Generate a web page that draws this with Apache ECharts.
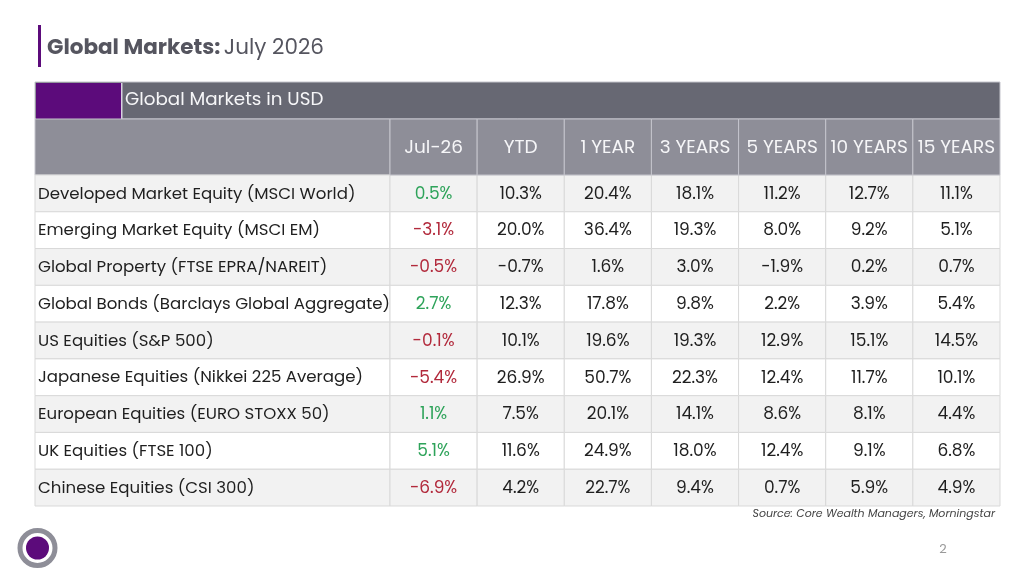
<!DOCTYPE html>
<html>
<head>
<meta charset="utf-8">
<script src="https://cdn.jsdelivr.net/npm/echarts@6/dist/echarts.min.js"></script>
<style>
html,body{margin:0;padding:0;background:#fff;}
#main{width:1024px;height:576px;}
</style>
</head>
<body>
<div id="main"></div>
<script>
const rowLabels = [
  'Developed Market Equity (MSCI World)',
  'Emerging Market Equity (MSCI EM)',
  'Global Property (FTSE EPRA/NAREIT)',
  'Global Bonds (Barclays Global Aggregate)',
  'US Equities (S&P 500)',
  'Japanese Equities (Nikkei 225 Average)',
  'European Equities (EURO STOXX 50)',
  'UK Equities (FTSE 100)',
  'Chinese Equities (CSI 300)'
];
const periods = ['Jul-26', 'YTD', '1 YEAR', '3 YEARS', '5 YEARS', '10 YEARS', '15 YEARS'];
const jul26 = [0.5, -3.1, -0.5, 2.7, -0.1, -5.4, 1.1, 5.1, -6.9];
const ytd = [10.3, 20.0, -0.7, 12.3, 10.1, 26.9, 7.5, 11.6, 4.2];
const oneYear = [20.4, 36.4, 1.6, 17.8, 19.6, 50.7, 20.1, 24.9, 22.7];
const threeYears = [18.1, 19.3, 3.0, 9.8, 19.3, 22.3, 14.1, 18.0, 9.4];
const fiveYears = [11.2, 8.0, -1.9, 2.2, 12.9, 12.4, 8.6, 12.4, 0.7];
const tenYears = [12.7, 9.2, 0.2, 3.9, 15.1, 11.7, 8.1, 9.1, 5.9];
const fifteenYears = [11.1, 5.1, 0.7, 5.4, 14.5, 10.1, 4.4, 6.8, 4.9];
const tableTitle = 'Global Markets in USD';
const sourceNote = 'Source: Core Wealth Managers, Morningstar';

const columns = [jul26, ytd, oneYear, threeYears, fiveYears, tenYears, fifteenYears];
const FONT = 'Poppins, "Open Sans", "Noto Sans", sans-serif';

const valueData = [];
columns.forEach((col, c) => col.forEach((v, r) => valueData.push([c, r, v])));
const labelData = rowLabels.map((_, r) => [0, r]);
const headerData = periods.map((_, c) => [c, 0]);

function cellRect(api, c, r) {
  const center = api.coord([c, r]);
  const size = api.size([1, 1]);
  return { center, x: center[0] - size[0] / 2, y: center[1] - size[1] / 2, w: size[0], h: size[1] };
}

function renderValue(params, api) {
  const c = api.value(0), r = api.value(1), v = api.value(2);
  const b = cellRect(api, c, r);
  let color = '#1f1f1f';
  if (c === 0) color = v >= 0 ? '#2ea35a' : '#b22a3c';
  return {
    type: 'group',
    children: [
      { type: 'rect', shape: { x: b.x, y: b.y, width: b.w, height: b.h },
        style: { fill: r % 2 === 0 ? '#f2f2f2' : '#ffffff', stroke: '#d9d9d9', lineWidth: 1 } },
      { type: 'text', x: b.center[0], y: b.center[1] + 1,
        style: { text: v.toFixed(1) + '%', fill: color, fontSize: 17, fontFamily: FONT, align: 'center', verticalAlign: 'middle' } }
    ]
  };
}

function renderLabel(params, api) {
  const c = api.value(0), r = api.value(1);
  const b = cellRect(api, c, r);
  return {
    type: 'group',
    children: [
      { type: 'rect', shape: { x: b.x, y: b.y, width: b.w, height: b.h },
        style: { fill: r % 2 === 0 ? '#f2f2f2' : '#ffffff', stroke: '#d9d9d9', lineWidth: 1 } },
      { type: 'text', x: b.x + 3, y: b.center[1] + 1,
        style: { text: rowLabels[params.dataIndex], fill: '#1f1f1f', fontSize: 16.6, fontFamily: FONT, align: 'left', verticalAlign: 'middle' } }
    ]
  };
}

function renderHeader(params, api) {
  const c = api.value(0), r = api.value(1);
  const b = cellRect(api, c, r);
  return {
    type: 'group',
    children: [
      { type: 'rect', shape: { x: b.x, y: b.y, width: b.w, height: b.h },
        style: { fill: '#8e8e98', stroke: '#c4c4cc', lineWidth: 1 } },
      { type: 'text', x: b.center[0], y: b.center[1] + 1,
        style: { text: periods[params.dataIndex], fill: '#f6f6f8', fontSize: 18.5, fontFamily: FONT, align: 'center', verticalAlign: 'middle' } }
    ]
  };
}

const hiddenAxis = { axisLine: { show: false }, axisTick: { show: false }, axisLabel: { show: false }, splitLine: { show: false } };

const chart = echarts.init(document.getElementById('main'), null, { renderer: 'canvas' });
chart.setOption({
  backgroundColor: '#ffffff',
  animation: false,
  grid: [
    { left: 35, top: 175, width: 355, height: 331 },
    { left: 390, top: 175, width: 610, height: 331 },
    { left: 390, top: 119, width: 610, height: 56 }
  ],
  xAxis: [
    Object.assign({ type: 'category', gridIndex: 0, data: ['Index'] }, hiddenAxis),
    Object.assign({ type: 'category', gridIndex: 1, data: periods }, hiddenAxis),
    Object.assign({ type: 'category', gridIndex: 2, data: periods }, hiddenAxis)
  ],
  yAxis: [
    Object.assign({ type: 'category', gridIndex: 0, data: rowLabels, inverse: true }, hiddenAxis),
    Object.assign({ type: 'category', gridIndex: 1, data: rowLabels, inverse: true }, hiddenAxis),
    Object.assign({ type: 'category', gridIndex: 2, data: ['Header'] }, hiddenAxis)
  ],
  graphic: [
    { type: 'rect', shape: { x: 38, y: 25, width: 3, height: 42 }, style: { fill: '#5c0b7b' } },
    { type: 'text', x: 47, y: 49, style: {
        text: '{b|Global Markets:} {n|July 2026}',
        verticalAlign: 'middle',
        rich: {
          b: { fontSize: 21.5, fontWeight: 'bold', fill: '#55555f', fontFamily: FONT },
          n: { fontSize: 21.5, fill: '#55555f', fontFamily: FONT }
        }
      } },
    { type: 'rect', shape: { x: 35, y: 82, width: 965, height: 37 }, style: { fill: '#676873', stroke: '#c4c4cc', lineWidth: 1 } },
    { type: 'rect', shape: { x: 36, y: 83, width: 85, height: 36 }, style: { fill: '#5c0b7b' } },
    { type: 'rect', shape: { x: 121, y: 83, width: 1.5, height: 36 }, style: { fill: '#d8d0e0' } },
    { type: 'text', x: 125, y: 100, style: { text: tableTitle, fill: '#f6f6f8', fontSize: 18.3, fontFamily: FONT, verticalAlign: 'middle' } },
    { type: 'rect', shape: { x: 35, y: 119, width: 355, height: 56 }, style: { fill: '#8e8e98', stroke: '#c4c4cc', lineWidth: 1 } },
    { type: 'text', x: 995, y: 514, style: { text: sourceNote, fill: '#444444', fontSize: 11, fontStyle: 'italic', fontFamily: FONT, align: 'right', verticalAlign: 'middle' } },
    { type: 'text', x: 943, y: 550, style: { text: '2', fill: '#9a9a9a', fontSize: 13, fontFamily: FONT, align: 'center', verticalAlign: 'middle' } },
    { type: 'circle', shape: { cx: 37.5, cy: 548, r: 17.5 }, style: { fill: '#ffffff', stroke: '#8e8e98', lineWidth: 5 } },
    { type: 'circle', shape: { cx: 37.5, cy: 548, r: 11.5 }, style: { fill: '#5c0b7b' } }
  ],
  series: [
    { type: 'custom', xAxisIndex: 0, yAxisIndex: 0, data: labelData, renderItem: renderLabel },
    { type: 'custom', xAxisIndex: 1, yAxisIndex: 1, data: valueData, renderItem: renderValue },
    { type: 'custom', xAxisIndex: 2, yAxisIndex: 2, data: headerData, renderItem: renderHeader }
  ]
});
</script>
</body>
</html>
